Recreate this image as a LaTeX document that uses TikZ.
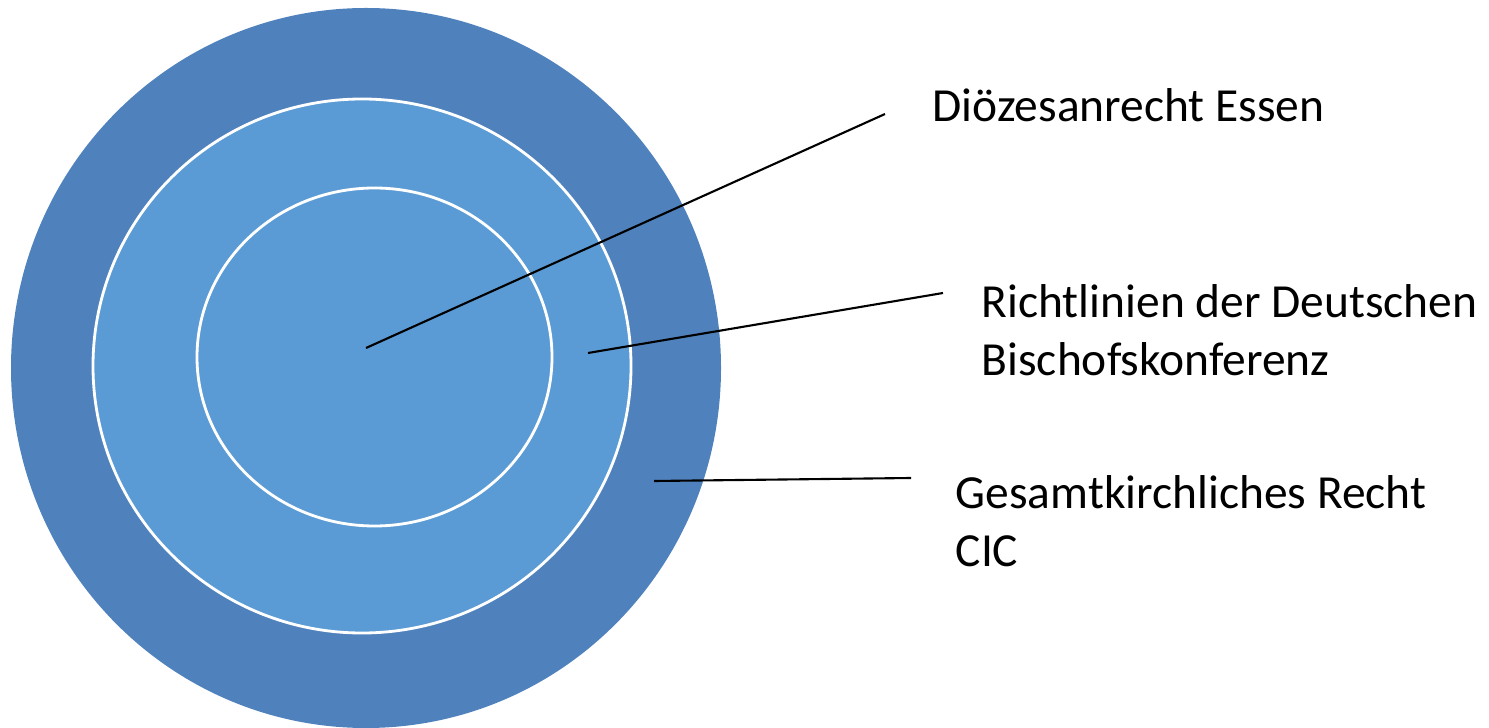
\documentclass[tikz,border=0pt]{standalone}
\usepackage{fontspec}
\setmainfont{Carlito}
\usepackage{xcolor}
\usetikzlibrary{positioning, calc}
\definecolor{outerblue}{HTML}{4F81BD}
\definecolor{innerblue}{HTML}{5B9BD5}

\begin{document}
\begin{tikzpicture}[
    x=0.01cm, y=-0.01cm,
    ring/.style={draw=white, line width=0.8pt, fill=innerblue},
    leader/.style={black, line width=0.6pt},
    label/.style={anchor=west, inner sep=0pt, align=left, font=\fontsize{13.5}{16.5}\selectfont}
]
\useasboundingbox (0,0) rectangle (1489,728);
\fill[outerblue] (366,368) ellipse [x radius=355, y radius=360];
\draw[ring] (362,366) ellipse [x radius=269, y radius=267];
\draw[ring] (374.5,357) ellipse [x radius=177.5, y radius=169];

\node[label] (dioez) at (932,105) {Diözesanrecht Essen};
\node[label] (dbk) at (981,330) {Richtlinien der Deutschen\\Bischofskonferenz};
\node[label] (cic) at (955,521) {Gesamtkirchliches Recht\\CIC};

\coordinate (dioezin) at (366,348);
\coordinate (dioezout) at (885,114);
\coordinate (dbkin) at (588,353);
\coordinate (dbkout) at (943,293);
\coordinate (cicin) at (654,481);
\coordinate (cicout) at (911,478);

\draw[leader] (dioezin) -- (dioezout);
\draw[leader] (dbkin) -- (dbkout);
\draw[leader] (cicin) -- (cicout);
\end{tikzpicture}
\end{document}
